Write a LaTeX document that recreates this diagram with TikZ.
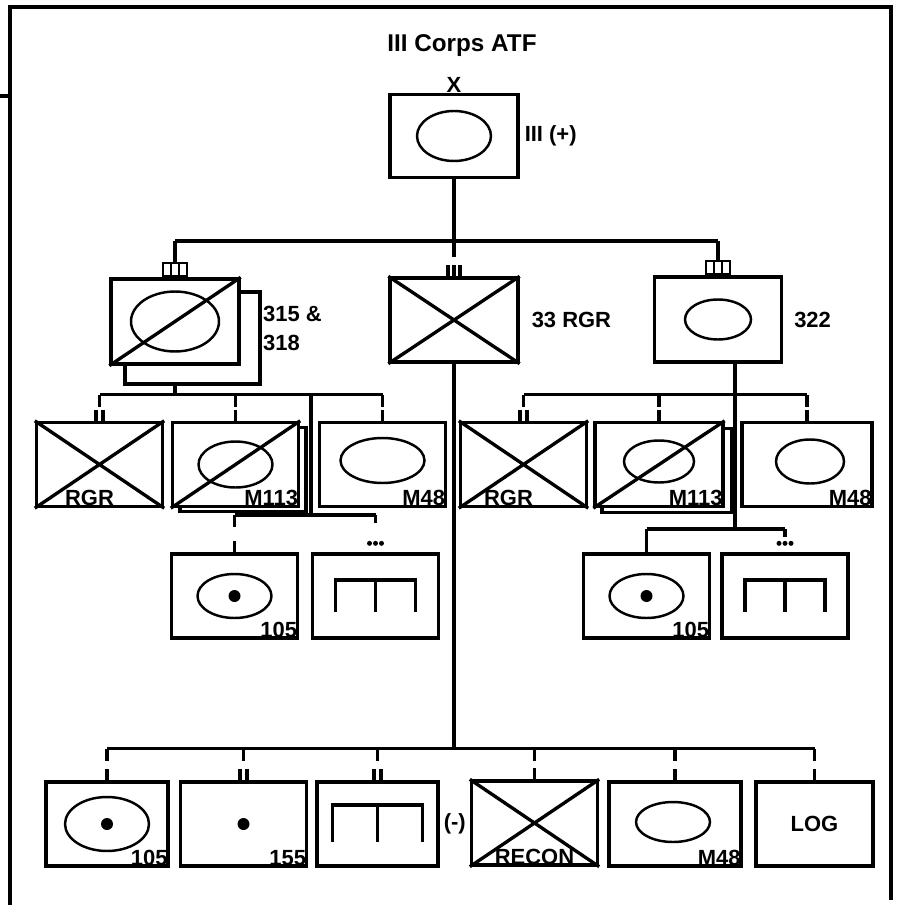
\documentclass[tikz,border=0pt]{standalone}
\usepackage{fontspec}
\usepackage{tikz}
\usetikzlibrary{positioning}
\newfontfamily\unitfamily{Liberation Sans}
\newcommand{\lblfont}{\unitfamily\fontsize{12.5}{15}\bfseries}

\begin{document}
\begin{tikzpicture}[x=0.02cm, y=-0.02cm,
            unit/.style={rectangle, draw, fill=white, line width=1.9pt, minimum width=2.52cm, minimum height=1.68cm, inner sep=0pt, font=\lblfont},
            link/.style={line width=1.9pt},
            oval/.style={line width=1.4pt},
            tag/.style={font=\lblfont, inner sep=1pt},
            tab/.style={rectangle, draw, line width=1.4pt, minimum width=0.48cm, minimum height=0.26cm, inner sep=0pt}]
    \useasboundingbox (0,0) rectangle (897,905);
    \draw[line width=2.2pt] (10,905) -- (10,7) -- (891,7) -- (891,900);
    \draw[line width=2.2pt] (0,96) -- (10,96);

    % corps
    \node [tag, font=\unitfamily\fontsize{13.8}{16}\bfseries] (title) at (462,46) {III Corps ATF};
    \node [unit, minimum width=2.56cm, minimum height=1.66cm] (corps) at (454,136) {};
    \node [tag, anchor=south, inner sep=0pt] (corpsX) at (corps.north) {X};
    \node [tag, right=0.06cm of corps] (corpsLbl) {III (+)};
    \draw [oval] (corps.center) ellipse [x radius=0.74cm, y radius=0.5cm];

    % brigades
    \node [unit, minimum width=2.7cm, minimum height=1.84cm] (bdeAsh) at (192.5,338) {};
    \node [unit, minimum width=2.56cm, minimum height=1.7cm] (bdeA) at (175,321.5) {};
    \draw [oval] (bdeA.center) ellipse [x radius=0.88cm, y radius=0.6cm];
    \draw [link] (bdeA.south west) -- (bdeA.north east);
    \node [tag, align=left, anchor=west, font=\unitfamily\fontsize{12.5}{16.5}\bfseries] (bdeALbl) at (261,328) {315 \&\\318};
    \node [tab, anchor=south] (tabA) at (bdeA.north) {};

    \node [unit, minimum width=2.56cm] (rgr) at (454,320) {};
    \draw [link] (rgr.north west) -- (rgr.south east) (rgr.south west) -- (rgr.north east);
    \node [tag, right=0.2cm of rgr] (rgrLbl) {33 RGR};

    \node [unit, minimum width=2.54cm, minimum height=1.7cm] (bdeB) at (718,319.5) {};
    \draw [oval] (bdeB.center) ellipse [x radius=0.66cm, y radius=0.4cm];
    \node [tag, right=0.18cm of bdeB] (bdeBLbl) {322};
    \node [tab, anchor=south] (tabB) at (bdeB.north) {};

    \foreach \t in {tabA, tabB}
        \foreach \d in {-4,4}
            \draw [line width=1.2pt] (\t.south) ++(\d,0) -- ++(0,-13);
    \foreach \d in {-6,0,6}
        \draw [link] (rgr.north) ++(\d,0) -- ++(0,-11);

    \draw [link] (corps.south) -- ++(0,62) coordinate (jTop);
    \draw [link] (tabA |- jTop) -- (tabB |- jTop);
    \draw [link] (tabA |- jTop) -- (tabA.north);
    \draw [link] (tabB |- jTop) -- (tabB.north);
    \draw [link] (jTop) -- ++(0,16);

    % battalions, 315 & 318
    \node [unit] (rgrA) at (99.5,464.5) {};
    \node [unit] (mtAsh) at (243,469.5) {};
    \node [unit] (mtA) at (235.5,464.5) {};
    \node [unit] (tkA) at (382.5,464.5) {};
    \node [unit] (fdA) at (234.5,596) {};
    \node [unit] (rlA) at (375.5,596) {};

    % battalions, 322
    \node [unit] (rgrB) at (523.5,464.5) {};
    \node [unit, minimum width=2.6cm] (mtBsh) at (667,470.5) {};
    \node [unit, minimum width=2.56cm] (mtB) at (659,464.5) {};
    \node [unit, minimum width=2.6cm] (tkB) at (807,464.5) {};
    \node [unit] (fdB) at (646.5,596) {};
    \node [unit] (rlB) at (785,596) {};

    % 33 RGR
    \node [unit, minimum width=2.44cm] (arty) at (107,824) {};
    \node [unit] (hv) at (243.5,824) {};
    \node [unit, minimum width=2.42cm] (rail) at (377.5,824) {};
    \node [unit] (recon) at (534.5,823) {};
    \node [unit, minimum width=2.64cm] (tank) at (675,824) {};
    \node [unit, minimum width=2.34cm] (log) at (814.5,824) {LOG};

    \foreach \n in {rgrA, rgrB, recon}
        \draw [link] (\n.north west) -- (\n.south east) (\n.south west) -- (\n.north east);
    \foreach \n in {mtA, mtB}
        \draw [link] (\n.south west) -- (\n.north east);
    \draw [oval] (mtA.center) ellipse [x radius=0.74cm, y radius=0.46cm];
    \draw [oval] (tkA.center) ++(0,-4) ellipse [x radius=0.84cm, y radius=0.45cm];
    \draw [oval] (mtB.center) ++(0,-3) ellipse [x radius=0.7cm, y radius=0.42cm];
    \draw [oval] (tkB.center) ++(3,-3) ellipse [x radius=0.68cm, y radius=0.44cm];
    \draw [oval] (tank.center) ++(-2,-2) ellipse [x radius=0.74cm, y radius=0.4cm];
    \foreach \n in {fdA, fdB}
        \draw [oval] (\n.center) ellipse [x radius=0.74cm, y radius=0.44cm];
    \draw [oval] (arty.center) ellipse [x radius=0.84cm, y radius=0.54cm];
    \foreach \n in {fdA, fdB, arty, hv}
        \fill (\n.center) circle [radius=0.12cm];
    \foreach \n in {rlA, rlB}
        \draw [link] (\n.center) ++(-40,16) |- ++(40,-32) -| ++(40,32)
            (\n.center) ++(0,-16) -- ++(0,32);
    \draw [link] (rail.center) ++(-45,18) |- ++(45,-37) -| ++(45,37)
        (rail.center) ++(0,-19) -- ++(0,37);

    \node [tag, anchor=south] at ([xshift=-0.2cm]rgrA.south) {RGR};
    \node [tag, anchor=south] at ([xshift=-0.3cm]rgrB.south) {RGR};
    \node [tag, anchor=south] at (recon.south) {RECON};
    \foreach \n in {mtA, mtB}
        \node [tag, anchor=south east] at (\n.south east) {M113};
    \foreach \n in {tkA, tkB, tank}
        \node [tag, anchor=south east] at (\n.south east) {M48};
    \foreach \n in {fdA, fdB, arty}
        \node [tag, anchor=south east] at (\n.south east) {105};
    \node [tag, anchor=south east] at (hv.south east) {155};
    \node [tag, right=0.04cm of rail] (railLbl) {(-)};

    % connectors
    \draw [link] (bdeA |- bdeAsh.south) -- ++(0,9) coordinate (jA);
    \draw [link] (rgrA |- jA) -- (tkA |- jA);
    \coordinate (kA) at (311,515);
    \draw [link] (kA |- jA) -- (kA);
    \draw [link] (fdA |- kA) -- (rlA |- kA);

    \coordinate (kB) at (735,529);
    \draw [link] (kB |- bdeB.south) -- (kB);
    \coordinate (jB) at (bdeB |- jA);
    \draw [link] (rgrB |- jB) -- (tkB |- jB);
    \draw [link] (fdB |- kB) -- (rlB |- kB);

    \draw [link] (rgr.south) -- ++(0,385) coordinate (jC);
    \draw [link] (arty |- jC) -- (log |- jC);

    \foreach \n/\j in {rgrA/jA, mtA/jA, tkA/jA, rgrB/jB, mtB/jB, tkB/jB, fdA/kA, fdB/kB,
                       arty/jC, hv/jC, rail/jC, recon/jC, tank/jC, log/jC}
        \draw [link] (\n |- \j) -- ++(0,12);
    \foreach \n/\j in {rlA/kA, rlB/kB}
        \draw [link] (\n |- \j) -- ++(0,8);
    \foreach \n in {mtA, tkA, mtB, tkB, fdA, fdB, arty, recon, tank, log}
        \draw [link] (\n.north) -- ++(0,-11);
    \foreach \n in {rgrA, rgrB, hv, rail}
        \draw [link] (\n.north) ++(-3.5,0) -- ++(0,-11) ++(7,11) -- ++(0,-11);
    \foreach \n in {rlA, rlB}
        \foreach \d in {-6,0,6}
            \fill (\n.north) ++(\d,-9) circle [radius=0.05cm];
\end{tikzpicture}
\end{document}
